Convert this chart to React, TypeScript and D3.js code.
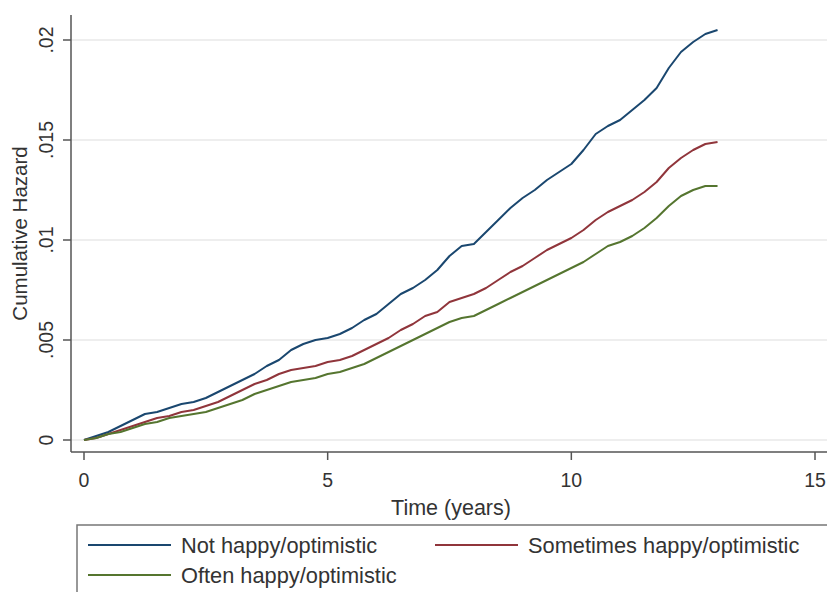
import React from "react";
import * as d3 from "d3";

// Nelson–Aalen cumulative hazard estimates by happiness group
const times = [
  0, 0.25, 0.5, 0.75, 1, 1.25, 1.5, 1.75, 2, 2.25, 2.5, 2.75, 3, 3.25, 3.5, 3.75,
  4, 4.25, 4.5, 4.75, 5, 5.25, 5.5, 5.75, 6, 6.25, 6.5, 6.75, 7, 7.25, 7.5, 7.75,
  8, 8.25, 8.5, 8.75, 9, 9.25, 9.5, 9.75, 10, 10.25, 10.5, 10.75, 11, 11.25, 11.5,
  11.75, 12, 12.25, 12.5, 12.75, 13,
];

const notHappy = [
  0, 0.0002, 0.0004, 0.0007, 0.001, 0.0013, 0.0014, 0.0016, 0.0018, 0.0019, 0.0021,
  0.0024, 0.0027, 0.003, 0.0033, 0.0037, 0.004, 0.0045, 0.0048, 0.005, 0.0051,
  0.0053, 0.0056, 0.006, 0.0063, 0.0068, 0.0073, 0.0076, 0.008, 0.0085, 0.0092,
  0.0097, 0.0098, 0.0104, 0.011, 0.0116, 0.0121, 0.0125, 0.013, 0.0134, 0.0138,
  0.0145, 0.0153, 0.0157, 0.016, 0.0165, 0.017, 0.0176, 0.0186, 0.0194, 0.0199,
  0.0203, 0.0205,
];

const sometimesHappy = [
  0, 0.0001, 0.0003, 0.0005, 0.0007, 0.0009, 0.0011, 0.0012, 0.0014, 0.0015,
  0.0017, 0.0019, 0.0022, 0.0025, 0.0028, 0.003, 0.0033, 0.0035, 0.0036, 0.0037,
  0.0039, 0.004, 0.0042, 0.0045, 0.0048, 0.0051, 0.0055, 0.0058, 0.0062, 0.0064,
  0.0069, 0.0071, 0.0073, 0.0076, 0.008, 0.0084, 0.0087, 0.0091, 0.0095, 0.0098,
  0.0101, 0.0105, 0.011, 0.0114, 0.0117, 0.012, 0.0124, 0.0129, 0.0136, 0.0141,
  0.0145, 0.0148, 0.0149,
];

const oftenHappy = [
  0, 0.0001, 0.0003, 0.0004, 0.0006, 0.0008, 0.0009, 0.0011, 0.0012, 0.0013,
  0.0014, 0.0016, 0.0018, 0.002, 0.0023, 0.0025, 0.0027, 0.0029, 0.003, 0.0031,
  0.0033, 0.0034, 0.0036, 0.0038, 0.0041, 0.0044, 0.0047, 0.005, 0.0053, 0.0056,
  0.0059, 0.0061, 0.0062, 0.0065, 0.0068, 0.0071, 0.0074, 0.0077, 0.008, 0.0083,
  0.0086, 0.0089, 0.0093, 0.0097, 0.0099, 0.0102, 0.0106, 0.0111, 0.0117, 0.0122,
  0.0125, 0.0127, 0.0127,
];

const seriesNames = [
  "Not happy/optimistic",
  "Sometimes happy/optimistic",
  "Often happy/optimistic",
];
const seriesValues = [notHappy, sometimesHappy, oftenHappy];
const seriesColors = ["#1a476f", "#90353b", "#55752f"];

const xTicks = [0, 5, 10, 15];
const yTicks = [0, 0.005, 0.01, 0.015, 0.02];
const yTickLabels = ["0", ".005", ".01", ".015", ".02"];

const W = 827;
const H = 592;
const FONT = "'Liberation Sans', Arial, Helvetica, sans-serif";

export default function App() {
  const axisLeft = 71;
  const axisBottom = 452;
  const plotTop = 15;

  const x = d3.scaleLinear().domain([0, 15]).range([84, 815]);
  const y = d3.scaleLinear().domain([0, 0.02]).range([440, 40]);

  const line = d3
    .line<[number, number]>()
    .x((d) => x(d[0]))
    .y((d) => y(d[1]))
    .curve(d3.curveLinear);

  const legendItems = [
    { i: 0, lx: 88, ly: 545 },
    { i: 1, lx: 435, ly: 545 },
    { i: 2, lx: 88, ly: 575 },
  ];

  return (
    <svg
      width={W}
      height={H}
      style={{ position: "absolute", left: 0, top: 0, background: "#fff" }}
      fontFamily={FONT}
    >
      {/* horizontal grid */}
      {yTicks.map((t) => (
        <line
          key={"g" + t}
          x1={axisLeft}
          x2={W}
          y1={y(t)}
          y2={y(t)}
          stroke="#e8e8e8"
          strokeWidth={1.5}
        />
      ))}

      {/* series */}
      {seriesValues.map((vals, i) => (
        <path
          key={seriesNames[i]}
          d={line(times.map((t, k) => [t, vals[k]] as [number, number])) || ""}
          fill="none"
          stroke={seriesColors[i]}
          strokeWidth={2}
          strokeLinejoin="round"
        />
      ))}

      {/* y axis */}
      <line x1={axisLeft} x2={axisLeft} y1={plotTop} y2={axisBottom} stroke="#555" strokeWidth={1.5} />
      {yTicks.map((t, k) => (
        <g key={"y" + t}>
          <line x1={axisLeft - 8} x2={axisLeft} y1={y(t)} y2={y(t)} stroke="#555" strokeWidth={1.5} />
          <text
            transform={`translate(${axisLeft - 18},${y(t)}) rotate(-90)`}
            textAnchor="middle"
            fontSize={19.5}
            fill="#333"
          >
            {yTickLabels[k]}
          </text>
        </g>
      ))}
      <text
        transform={`translate(27,${(plotTop + axisBottom) / 2}) rotate(-90)`}
        textAnchor="middle"
        fontSize={20.5}
        fill="#333"
      >
        Cumulative Hazard
      </text>

      {/* x axis */}
      <line x1={axisLeft} x2={W} y1={axisBottom} y2={axisBottom} stroke="#555" strokeWidth={1.5} />
      {xTicks.map((t) => (
        <g key={"x" + t}>
          <line x1={x(t)} x2={x(t)} y1={axisBottom} y2={axisBottom + 8} stroke="#555" strokeWidth={1.5} />
          <text x={x(t)} y={axisBottom + 35} textAnchor="middle" fontSize={19.5} fill="#333">
            {t}
          </text>
        </g>
      ))}
      <text x={451} y={515} textAnchor="middle" fontSize={21.5} fill="#333">
        Time (years)
      </text>

      {/* legend */}
      <rect x={77} y={525} width={W} height={100} fill="#fff" stroke="#777" strokeWidth={1.5} />
      {legendItems.map(({ i, lx, ly }) => (
        <g key={"l" + i}>
          <line x1={lx} x2={lx + 83} y1={ly} y2={ly} stroke={seriesColors[i]} strokeWidth={2} />
          <text x={lx + 93} y={ly + 7.5} fontSize={21.8} fill="#333">
            {seriesNames[i]}
          </text>
        </g>
      ))}
    </svg>
  );
}
